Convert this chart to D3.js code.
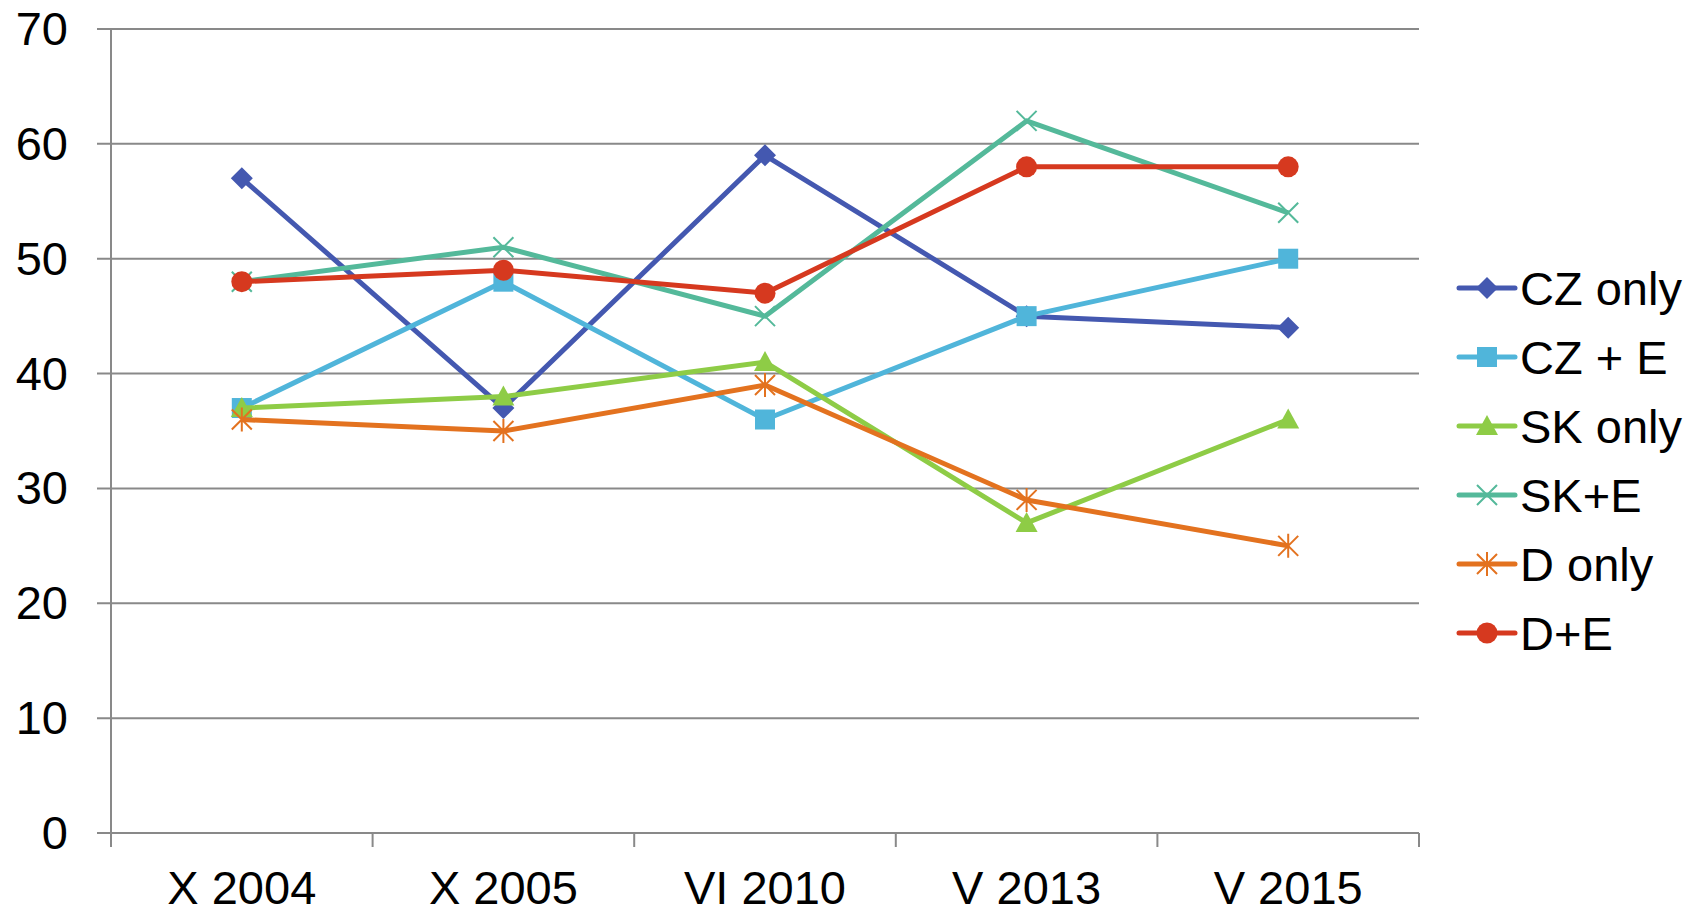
<!DOCTYPE html>
<html>
<head>
<meta charset="utf-8">
<script src="https://cdn.jsdelivr.net/npm/d3@7"></script>
<style>
  body { margin: 0; background: #fff; }
  text { font-family: "Liberation Sans", Arial, sans-serif; fill: #000; }
</style>
</head>
<body>
<div id="chart"></div>
<script>
const categories = ["X 2004", "X 2005", "VI 2010", "V 2013", "V 2015"];
const seriesNames = ["CZ only", "CZ + E", "SK only", "SK+E", "D only", "D+E"];
const czOnly = [57, 37, 59, 45, 44];
const czE = [37, 48, 36, 45, 50];
const skOnly = [37, 38, 41, 27, 36];
const skE = [48, 51, 45, 62, 54];
const dOnly = [36, 35, 39, 29, 25];
const dE = [48, 49, 47, 58, 58];
const yTicks = [0, 10, 20, 30, 40, 50, 60, 70];

const colors = ["#4458b0", "#50b5da", "#8ecc46", "#54b99a", "#e3721f", "#d6391f"];
const markers = ["diamond", "square", "triangle", "cross", "star", "circle"];

const series = [czOnly, czE, skOnly, skE, dOnly, dE].map((values, i) => ({
    name: seriesNames[i], values, color: colors[i], marker: markers[i]
}));

const dimensions = { width: 1700, height: 913, margin: { left: 111, right: 281, top: 29, bottom: 80 } };
const plotW = dimensions.width - dimensions.margin.left - dimensions.margin.right;
const plotH = dimensions.height - dimensions.margin.top - dimensions.margin.bottom;

const xScale = d3.scaleBand().domain(categories).range([0, plotW]);
const yScale = d3.scaleLinear().domain([0, 70]).range([plotH, 0]);
const gridColor = "#898989";

//draw a marker shape centered at 0,0
const drawMarker = (g, type, color) => {
    if (type == "diamond") {
        g.append("path").attr("d", "M0,-11L11,0L0,11L-11,0Z").style("fill", color);
    } else if (type == "square") {
        g.append("rect").attr("x", -10).attr("y", -10).attr("width", 20).attr("height", 20).style("fill", color);
    } else if (type == "triangle") {
        g.append("path").attr("d", "M0,-11L11,9L-11,9Z").style("fill", color);
    } else if (type == "circle") {
        g.append("circle").attr("r", 10.5).style("fill", color);
    } else if (type == "cross") {
        g.append("path").attr("d", "M-10,-10L10,10M-10,10L10,-10")
            .style("stroke", color).style("stroke-width", 2).style("fill", "none");
    } else if (type == "star") {
        g.append("path").attr("d", "M-10,-10L10,10M-10,10L10,-10M0,-12L0,12")
            .style("stroke", color).style("stroke-width", 2).style("fill", "none");
    }
};

const wrapper = d3.select("#chart")
    .append("svg")
    .attr("width", dimensions.width)
    .attr("height", dimensions.height);

const bounds = wrapper.append("g")
    .attr("transform", `translate(${dimensions.margin.left},${dimensions.margin.top})`);

//horizontal gridlines with small ticks on the left
bounds.selectAll(".grid")
    .data(yTicks)
    .enter().append("line")
    .attr("x1", -14)
    .attr("x2", plotW)
    .attr("y1", d => yScale(d))
    .attr("y2", d => yScale(d))
    .style("stroke", gridColor)
    .style("stroke-width", 2);

//y labels
bounds.selectAll(".ylab")
    .data(yTicks)
    .enter().append("text")
    .attr("x", -43)
    .attr("y", d => yScale(d) + 16)
    .attr("text-anchor", "end")
    .style("font-size", "47px")
    .text(d => d);

//vertical axis line
bounds.append("line")
    .attr("x1", 0).attr("x2", 0)
    .attr("y1", 0).attr("y2", plotH + 14)
    .style("stroke", gridColor)
    .style("stroke-width", 2);

//x tick marks at category boundaries
const boundaries = categories.map(c => xScale(c)).concat([plotW]);
bounds.selectAll(".xtick")
    .data(boundaries)
    .enter().append("line")
    .attr("x1", d => d).attr("x2", d => d)
    .attr("y1", plotH).attr("y2", plotH + 14)
    .style("stroke", gridColor)
    .style("stroke-width", 2);

//x labels
bounds.selectAll(".xlab")
    .data(categories)
    .enter().append("text")
    .attr("x", d => xScale(d) + xScale.bandwidth() / 2)
    .attr("y", plotH + 71)
    .attr("text-anchor", "middle")
    .style("font-size", "47px")
    .text(d => d);

//series lines and markers
const line = d3.line()
    .x((d, i) => xScale(categories[i]) + xScale.bandwidth() / 2)
    .y(d => yScale(d));

series.forEach(s => {
    const g = bounds.append("g");
    g.append("path")
        .attr("d", line(s.values))
        .style("fill", "none")
        .style("stroke", s.color)
        .style("stroke-width", 5)
        .style("stroke-linejoin", "round");
    s.values.forEach((v, i) => {
        const m = g.append("g")
            .attr("transform", `translate(${xScale(categories[i]) + xScale.bandwidth() / 2},${yScale(v)})`);
        drawMarker(m, s.marker, s.color);
    });
});

//legend
const legend = wrapper.append("g")
    .attr("transform", "translate(1459,288)");
series.forEach((s, i) => {
    const row = legend.append("g").attr("transform", `translate(0,${i * 69})`);
    row.append("line")
        .attr("x1", 0).attr("x2", 56)
        .style("stroke", s.color)
        .style("stroke-width", 5)
        .style("stroke-linecap", "round");
    const m = row.append("g").attr("transform", "translate(28,0)");
    drawMarker(m, s.marker, s.color);
    row.append("text")
        .attr("x", 61)
        .attr("y", 17)
        .style("font-size", "47px")
        .text(s.name);
});
</script>
</body>
</html>
